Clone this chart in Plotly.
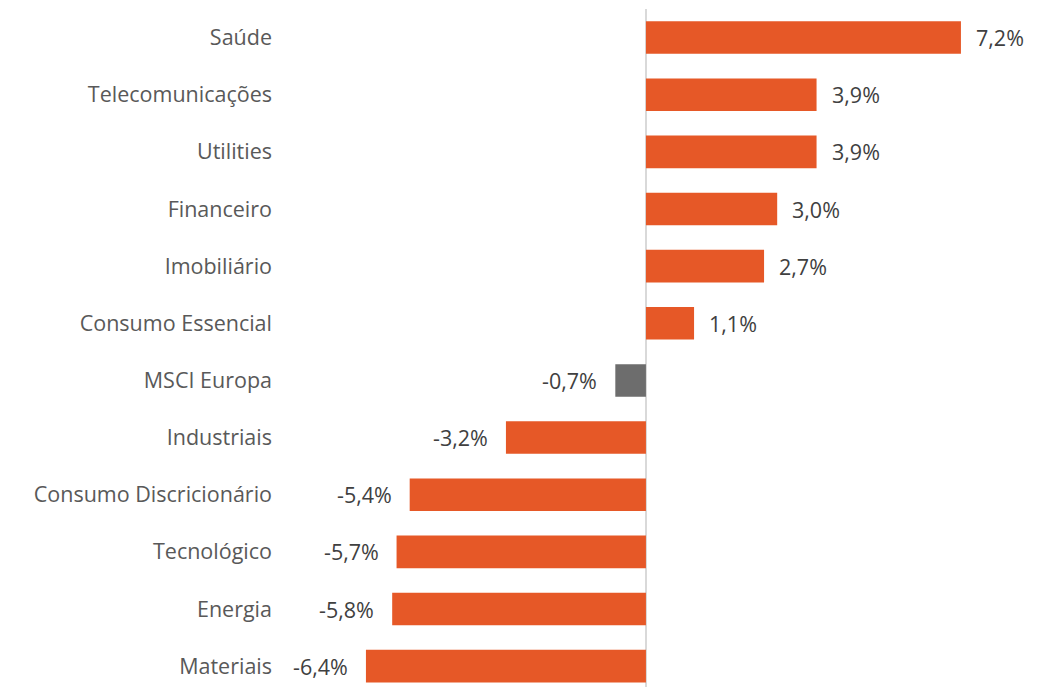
import plotly.graph_objects as go

categories = ["Saúde", "Telecomunicações", "Utilities", "Financeiro", "Imobiliário",
              "Consumo Essencial", "MSCI Europa", "Industriais", "Consumo Discricionário",
              "Tecnológico", "Energia", "Materiais"]
values = [7.2, 3.9, 3.9, 3.0, 2.7, 1.1, -0.7, -3.2, -5.4, -5.7, -5.8, -6.4]

ORANGE = "#E65827"
GREY = "#6D6D6D"
FONT = "Open Sans, sans-serif"
colors = [GREY if c == "MSCI Europa" else ORANGE for c in categories]
positions = list(range(len(categories)))

fig = go.Figure(go.Bar(
    x=values,
    y=positions,
    orientation="h",
    marker=dict(color=colors, line=dict(width=0)),
    width=0.57,
    hoverinfo="skip",
))

# value labels placed just beyond the end of each bar
for pos, val in zip(positions, values):
    label = f"{val:.1f}".replace(".", ",") + "%"
    fig.add_annotation(
        x=val, y=pos, text=label, showarrow=False,
        xanchor="left" if val >= 0 else "right",
        xshift=13 if val >= 0 else -16,
        font=dict(family=FONT, size=21.5, color="#404040"),
    )

fig.update_layout(
    width=1048,
    height=687,
    margin=dict(l=285, r=0, t=9, b=0),
    paper_bgcolor="white",
    plot_bgcolor="white",
    showlegend=False,
    font=dict(family=FONT, size=21.5, color="#595959"),
    xaxis=dict(
        range=[-8.25, 9.19],
        showgrid=False,
        showticklabels=False,
        zeroline=True,
        zerolinecolor="#D9D9D9",
        zerolinewidth=2,
        fixedrange=True,
    ),
    yaxis=dict(
        range=[11.365, -0.5],
        tickmode="array",
        tickvals=positions,
        ticktext=categories,
        showgrid=False,
        zeroline=False,
        ticks="",
        ticklabelstandoff=12,
        tickfont=dict(family=FONT, size=21.5, color="#595959"),
    ),
)

fig.write_html("out.html")
